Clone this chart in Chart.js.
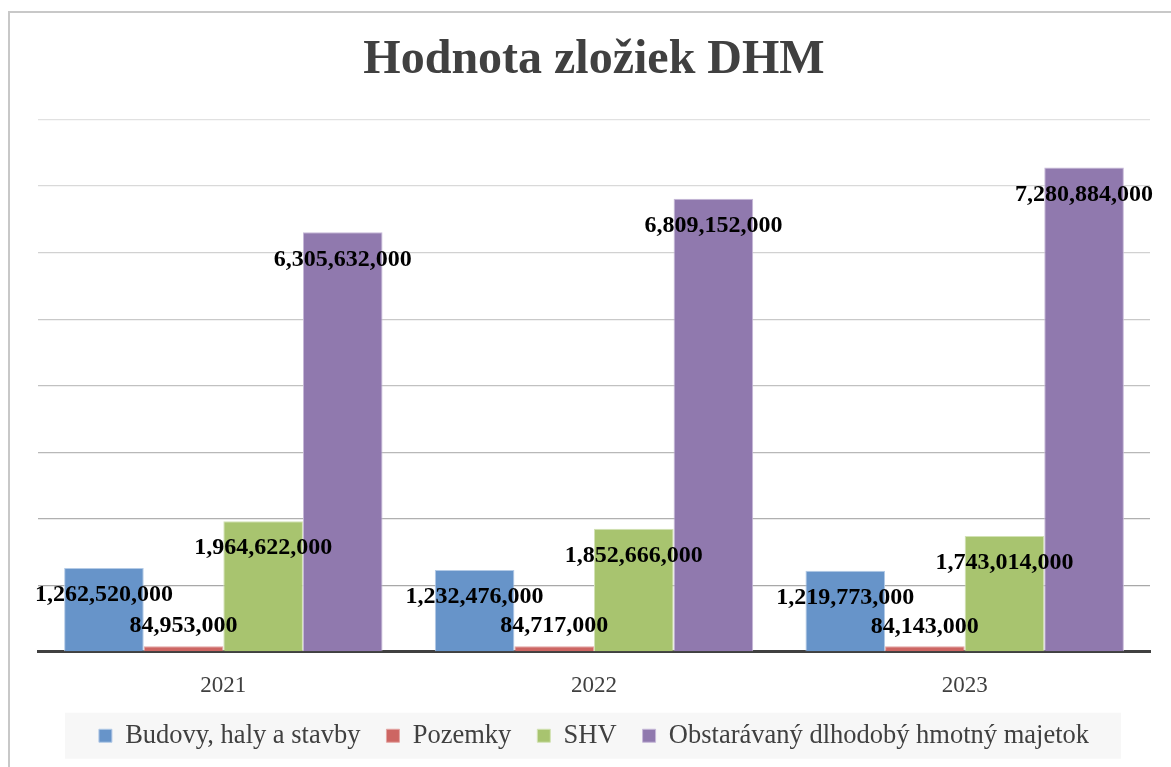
<!DOCTYPE html>
<html>
<head>
<meta charset="utf-8">
<script src="https://cdn.jsdelivr.net/npm/chart.js@4"></script>
<style>
  html, body { margin: 0; padding: 0; background: #fff; overflow: hidden; }
  #wrap { position: relative; width: 1171px; height: 800px; }
</style>
</head>
<body>
<div id="wrap"><canvas id="dhmChart"></canvas></div>
<script>
const categories = ['2021', '2022', '2023']
const budovy = [1262520000, 1232476000, 1219773000]
const pozemky = [84953000, 84717000, 84143000]
const shv = [1964622000, 1852666000, 1743014000]
const obstaravany = [6305632000, 6809152000, 7280884000]
const yMax = 8000000000
const yStep = 1000000000

const serif = "'Liberation Serif', 'Times New Roman', serif"

// light frame around the whole chart + grey legend panel
const framePlugin = {
  id: 'frame',
  beforeDraw(chart) {
    const ctx = chart.ctx
    ctx.save()
    ctx.strokeStyle = '#c8c8c8'
    ctx.lineWidth = 2
    ctx.strokeRect(9, 12, 1300, 900)
    const boxes = chart.legend && chart.legend.legendHitBoxes
    if (boxes && boxes.length) {
      const left = Math.min(...boxes.map(b => b.left))
      const right = Math.max(...boxes.map(b => b.left + b.width))
      const mid = boxes[0].top + boxes[0].height / 2
      ctx.fillStyle = '#f7f7f7'
      ctx.fillRect(left - 34, mid - 23, right - left + 66, 46)
    }
    ctx.restore()
  }
}

// value labels
const labelPlugin = {
  id: 'valueLabels',
  afterDatasetsDraw(chart) {
    const ctx = chart.ctx
    ctx.save()
    ctx.font = 'bold 24px ' + serif
    ctx.fillStyle = '#000'
    ctx.textAlign = 'center'
    ctx.textBaseline = 'middle'
    chart.data.datasets.forEach((ds, i) => {
      chart.getDatasetMeta(i).data.forEach((bar, j) => {
        const h = bar.base - bar.y
        const y = h > 40 ? bar.y + 27 : bar.y - 20
        ctx.fillText(ds.data[j].toLocaleString('en-US'), bar.x, y)
      })
    })
    ctx.restore()
  }
}

const gridShade = (v) => {
  const g = Math.round(160 + (v / yMax) * 65)
  return 'rgb(' + g + ',' + g + ',' + g + ')'
}

new Chart(document.getElementById('dhmChart'), {
  type: 'bar',
  data: {
    labels: categories,
    datasets: [
      { label: 'Budovy, haly a stavby', data: budovy, backgroundColor: '#6794c9', borderColor: '#b3cae6', borderWidth: 1 },
      { label: 'Pozemky', data: pozemky, backgroundColor: '#cd6663', borderColor: '#e3a5a3', borderWidth: 1 },
      { label: 'SHV', data: shv, backgroundColor: '#a8c46f', borderColor: '#d2e2b4', borderWidth: 1 },
      { label: 'Obstarávaný dlhodobý hmotný majetok', data: obstaravany, backgroundColor: '#9079ae', borderColor: '#c6b8d8', borderWidth: 1 }
    ]
  },
  options: {
    responsive: true,
    maintainAspectRatio: false,
    animation: false,
    layout: { padding: { left: 38, right: 21, top: 13, bottom: 41 } },
    datasets: { bar: { barPercentage: 1, categoryPercentage: 0.859 } },
    plugins: {
      title: {
        display: true,
        text: 'Hodnota zložiek DHM',
        color: '#404040',
        font: { family: serif, size: 48, weight: 'bold' },
        padding: { top: 19, bottom: 30 }
      },
      legend: {
        position: 'bottom',
        labels: {
          color: '#404040',
          font: { family: serif, size: 26.5 },
          boxWidth: 13,
          boxHeight: 13,
          padding: 26
        }
      },
      tooltip: { enabled: false }
    },
    scales: {
      x: {
        grid: { display: false, drawTicks: false },
        border: { display: true, color: '#404040', width: 3 },
        ticks: { color: '#404040', font: { family: serif, size: 23 }, padding: 20 },
        afterFit: (scale) => { scale.height -= 23 }
      },
      y: {
        min: 0,
        max: yMax,
        ticks: { display: false, stepSize: yStep },
        grid: { drawTicks: false, color: (c) => gridShade(c.tick ? c.tick.value : 0), lineWidth: 1.3 },
        border: { display: false }
      }
    }
  },
  plugins: [framePlugin, labelPlugin]
})
</script>
</body>
</html>
